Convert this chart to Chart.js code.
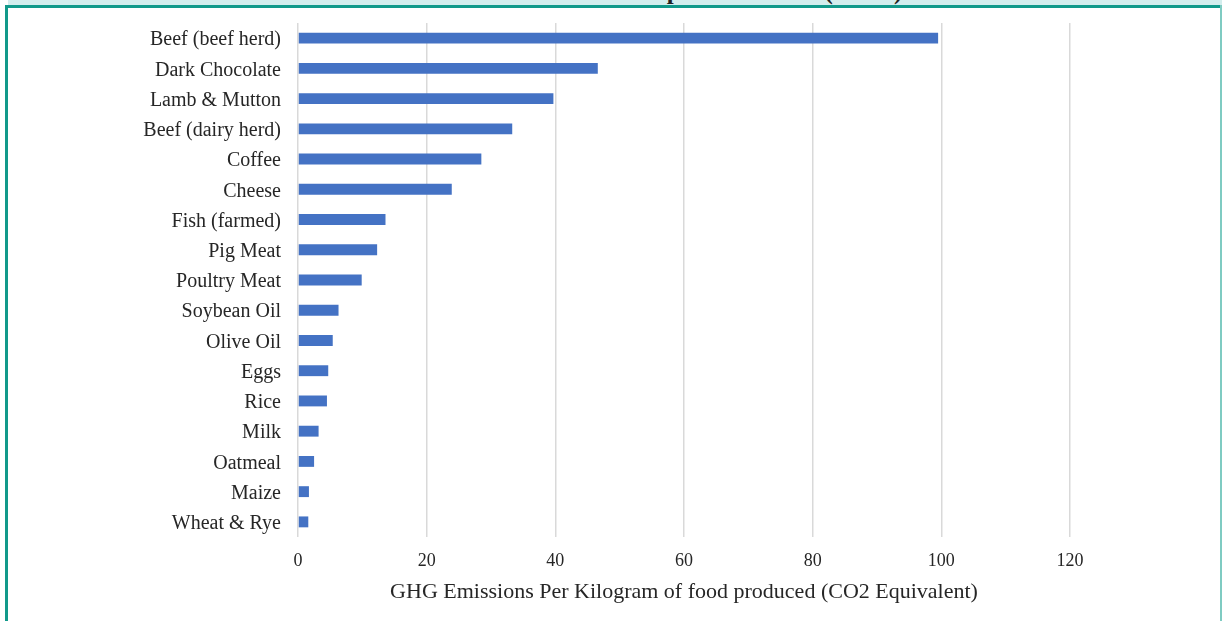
<!DOCTYPE html>
<html>
<head>
<meta charset="utf-8">
<script src="https://cdn.jsdelivr.net/npm/chart.js"></script>
<style>
  body { margin: 0; background: #fff; width: 1222px; height: 621px; overflow: hidden; position: relative; }
  #wrap { position: absolute; left: 0; top: 0; width: 1222px; height: 621px; }
  #strip { position: absolute; left: 8px; top: 0; right: 0; height: 5px; background: #d3eded; overflow: hidden; }
  #strip span { position: absolute; left: 522px; top: -22px; font: bold 25px/1 "Liberation Serif", serif; color: #222; white-space: nowrap; }
  #topline { position: absolute; left: 5px; top: 5px; right: 0; height: 3px; background: #11998a; }
  #leftline { position: absolute; left: 5px; top: 5px; bottom: 0; width: 3px; background: #11998a; }
  #rightline { position: absolute; right: 0; top: 5px; bottom: 0; width: 2px; background: #7fcbc2; }
</style>
</head>
<body>
<div id="wrap"><canvas id="chart"></canvas></div>
<div id="strip"><span>Carbon Footprint of Foods (CO2e)</span></div>
<div id="topline"></div>
<div id="leftline"></div>
<div id="rightline"></div>
<script>
// food categories, top to bottom
const foods = ['Beef (beef herd)', 'Dark Chocolate', 'Lamb & Mutton', 'Beef (dairy herd)', 'Coffee',
  'Cheese', 'Fish (farmed)', 'Pig Meat', 'Poultry Meat', 'Soybean Oil', 'Olive Oil', 'Eggs',
  'Rice', 'Milk', 'Oatmeal', 'Maize', 'Wheat & Rye'];

// kg CO2 equivalent per kg of food
const emissions = [99.5, 46.6, 39.7, 33.3, 28.5, 23.9, 13.6, 12.3, 9.9, 6.3, 5.4, 4.7, 4.5, 3.2, 2.5, 1.7, 1.6];

const xTicks = [0, 20, 40, 60, 80, 100, 120];

const serif = '"Liberation Serif", "Times New Roman", serif';

new Chart(document.getElementById('chart'), {
  type: 'bar',
  data: {
    labels: foods,
    datasets: [{
      data: emissions,
      backgroundColor: '#4472c4',
      borderWidth: 0,
      barPercentage: 0.36,
      categoryPercentage: 1
    }]
  },
  options: {
    indexAxis: 'y',
    responsive: true,
    maintainAspectRatio: false,
    animation: false,
    layout: { padding: { top: 23, right: 152, left: 0, bottom: 0 } },
    plugins: { legend: { display: false }, tooltip: { enabled: false } },
    scales: {
      x: {
        min: 0,
        max: 120,
        afterBuildTicks: (scale) => { scale.ticks = xTicks.map(v => ({ value: v })); },
        afterFit: (scale) => { scale.height = 84; scale.paddingLeft = 0; scale.paddingRight = 0; },
        grid: { color: '#d9d9d9', lineWidth: 1.5, drawTicks: false },
        border: { display: false },
        ticks: { padding: 13, color: '#262626', font: { family: serif, size: 18 } },
        title: {
          display: true,
          text: 'GHG Emissions Per Kilogram of food produced (CO2 Equivalent)',
          color: '#262626',
          font: { family: serif, size: 22 },
          padding: { top: 0, bottom: 16 }
        }
      },
      y: {
        afterFit: (scale) => { scale.width = 298; scale.paddingTop = 0; scale.paddingBottom = 0; },
        grid: { display: false, drawTicks: false },
        border: { display: false },
        ticks: { padding: 17, labelOffset: 2, color: '#262626', font: { family: serif, size: 20 } }
      }
    }
  }
});
</script>
</body>
</html>
